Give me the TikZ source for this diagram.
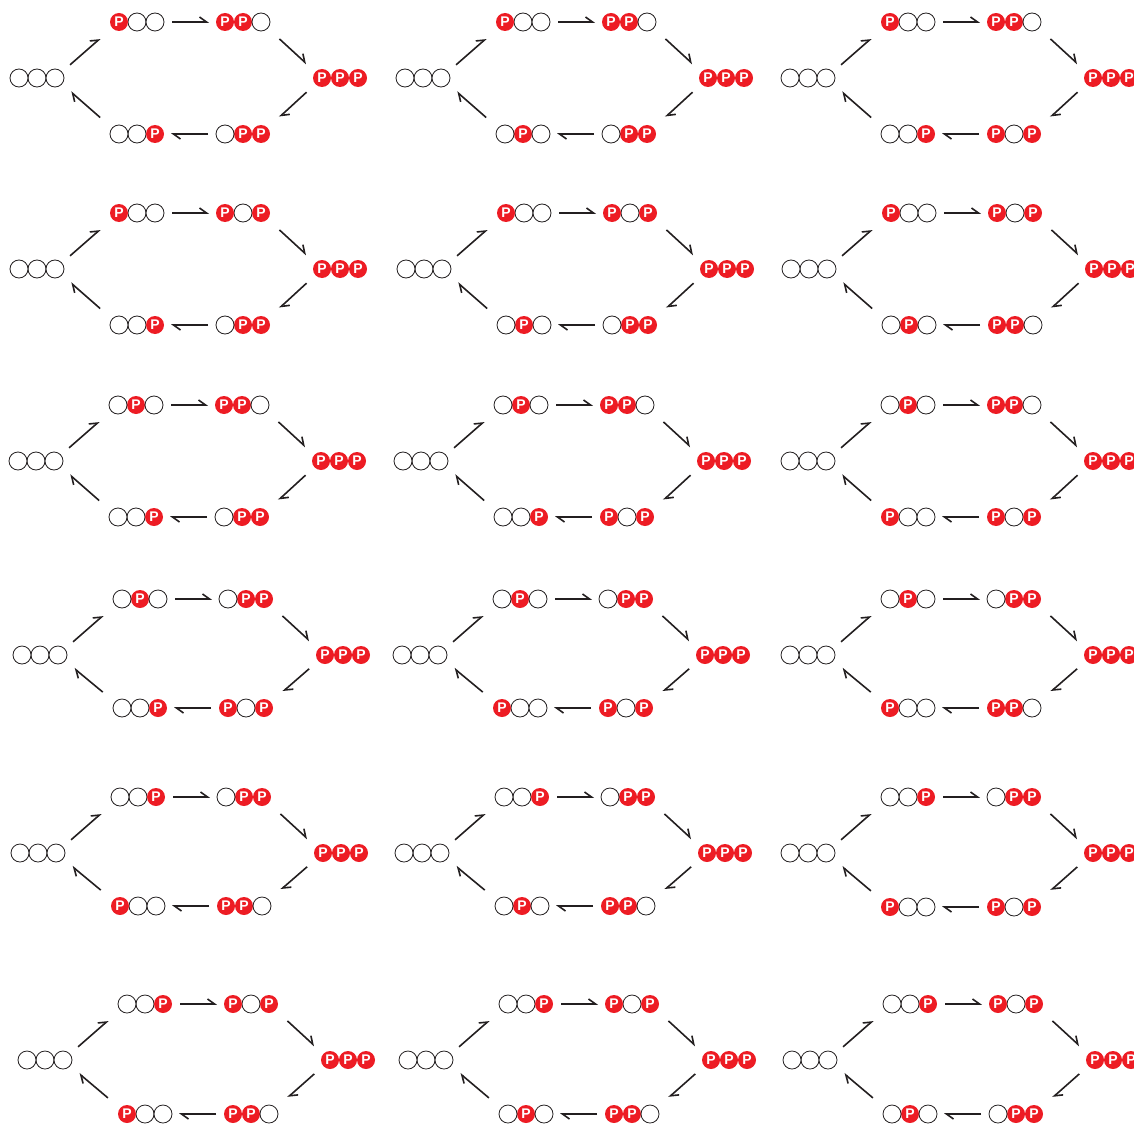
\documentclass[tikz,border=0pt]{standalone}
\usepackage{fontspec}
\setsansfont{Liberation Sans}
\usepackage{xcolor}
\usepackage{tikz}
\usetikzlibrary{arrows.meta, positioning}
\definecolor{pred}{RGB}{237,28,36}
\definecolor{mydark}{RGB}{35,31,32}
\tikzset{
  site/.style={circle, minimum size=18pt, inner sep=0pt, outer sep=0pt},
  O/.style={site, draw=mydark, line width=0.8pt, fill=white},
  P/.style={site, fill=pred,
    label={[text=white, inner sep=0pt,
      font=\sffamily\bfseries\fontsize{14}{14}\selectfont]center:P}},
  conv/.style={-{Straight Barb[harpoon, length=7pt, width=10pt]},
    line width=1.6pt, color=mydark}
}
% three sites, #2 = centre of the middle one
\newcommand{\sitetrio}[5]{%
  \node[#4] (#1-2) at (#2) {};
  \node[#3, left=0pt of #1-2] (#1-1) {};
  \node[#5, right=0pt of #1-2] (#1-3) {};
}
% one cycle: name, x, y, gap below, upper left, upper right, lower right, lower left
\newcommand{\phoscycle}[8]{%
  \sitetrio{#1l}{#2,#3}OOO
  \sitetrio{#1t}{{#2+100},{#3-56}}#5
  \sitetrio{#1u}{{#2+206},{#3-56}}#6
  \sitetrio{#1r}{{#2+303},{#3}}PPP
  \sitetrio{#1v}{{#2+206},{#3+#4}}#7
  \sitetrio{#1w}{{#2+100},{#3+#4}}#8
  \draw[conv, shorten <=11pt, shorten >=16pt] (#1l-3) -- (#1t-1);
  \draw[conv, shorten <=8pt, shorten >=7pt] (#1t-3) -- (#1u-1);
  \draw[conv, shorten <=16pt, shorten >=12pt] (#1u-3) -- (#1r-1);
  \draw[conv, shorten <=12pt, shorten >=16pt] (#1r-1) -- (#1v-3);
  \draw[conv, shorten <=8pt, shorten >=7pt] (#1v-1) -- (#1w-3);
  \draw[conv, shorten <=16pt, shorten >=12pt] (#1w-1) -- (#1l-3);
}

\begin{document}
\begin{tikzpicture}[x=1pt, y=-1pt]
  \useasboundingbox (0,0) rectangle (1134,1126);

  \phoscycle{a}{37}{78}{56}{POO}{PPO}{OPP}{OOP}
  \phoscycle{b}{423}{78}{56}{POO}{PPO}{OPP}{OPO}
  \phoscycle{c}{808}{78}{56}{POO}{PPO}{POP}{OOP}

  \phoscycle{d}{37}{269}{56}{POO}{POP}{OPP}{OOP}
  \phoscycle{e}{424}{269}{56}{POO}{POP}{OPP}{OPO}
  \phoscycle{f}{809}{269}{56}{POO}{POP}{PPO}{OPO}

  \phoscycle{g}{36}{461}{56}{OPO}{PPO}{OPP}{OOP}
  \phoscycle{h}{421}{461}{56}{OPO}{PPO}{POP}{OOP}
  \phoscycle{i}{808}{461}{56}{OPO}{PPO}{POP}{POO}

  \phoscycle{j}{40}{655}{53}{OPO}{OPP}{POP}{OOP}
  \phoscycle{k}{420}{655}{53}{OPO}{OPP}{POP}{POO}
  \phoscycle{l}{808}{655}{53}{OPO}{OPP}{PPO}{POO}

  \phoscycle{m}{38}{853}{53}{OOP}{OPP}{PPO}{POO}
  \phoscycle{n}{422}{853}{53}{OOP}{OPP}{PPO}{OPO}
  \phoscycle{o}{808}{853}{54}{OOP}{OPP}{POP}{POO}

  \phoscycle{p}{45}{1060}{54}{OOP}{POP}{PPO}{POO}
  \phoscycle{q}{426}{1060}{54}{OOP}{POP}{PPO}{OPO}
  \phoscycle{r}{810}{1060}{54}{OOP}{POP}{OPP}{OPO}
\end{tikzpicture}
\end{document}
